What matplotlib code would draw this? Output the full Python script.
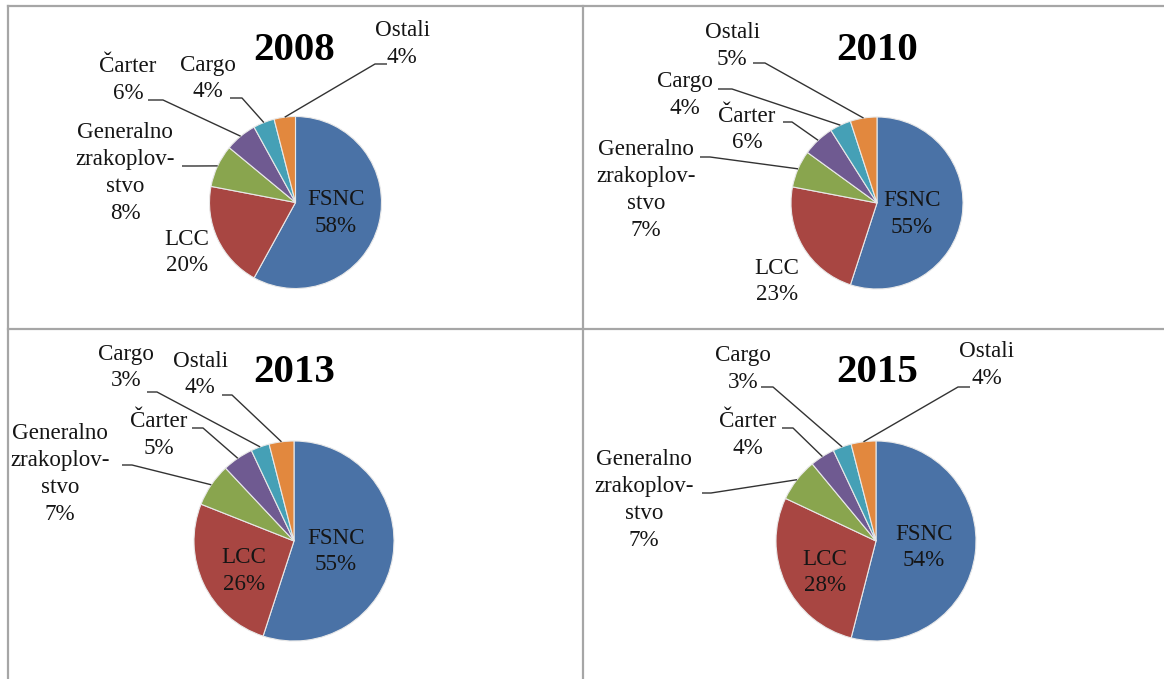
import matplotlib
matplotlib.use("Agg")
import matplotlib.pyplot as plt
import numpy as np

W, H = 1164, 679

# ---- data ----
categories = ["FSNC", "LCC", "Generalno\nzrakoplov-\nstvo", "Čarter", "Cargo", "Ostali"]
years = ["2008", "2010", "2013", "2015"]
shares_2008 = [58, 20, 8, 6, 4, 4]
shares_2010 = [55, 23, 7, 6, 4, 5]
shares_2013 = [55, 26, 7, 5, 3, 4]
shares_2015 = [54, 28, 7, 4, 3, 4]
shares = [shares_2008, shares_2010, shares_2013, shares_2015]

colors = ['#4A72A6', '#A84642', '#89A54E', '#6F5A91', '#45A0B6', '#E2883E']

# ---- layout (pixel coordinates, y measured from top) ----
layouts = [
    dict(center=(295.5, 202.5), r=86, title=(294, 50),
         labels=[(336, 213), (187, 252.5), (125, 173), (128, 80), (208, 78.5), (402, 44)],
         leaders=[None, None, ((182, 166), (195, 166)), ((148, 100), (163, 100)),
                  ((230, 98), (242, 98)), ((387, 64), (375, 64))]),
    dict(center=(877, 203), r=86, title=(877, 50),
         labels=[(912, 214), (777, 281.5), (646, 190), (747, 129.5), (685, 95), (732, 46)],
         leaders=[None, None, ((700, 157), (710, 157)), ((783, 122), (792, 122)),
                  ((718, 89), (732, 89)), ((753, 63), (765, 63))]),
    dict(center=(294, 541), r=100, title=(294, 372),
         labels=[(336, 551.5), (244, 571), (60, 474), (159, 435), (126, 367.5), (200, 374.5)],
         leaders=[None, None, ((122, 465), (132, 465)), ((192, 428), (203, 428)),
                  ((147, 392), (157, 392)), ((222, 395), (232, 395))]),
    dict(center=(876, 541), r=100, title=(877, 372),
         labels=[(924, 547.5), (825, 572.5), (644, 500), (748, 435), (743, 369), (987, 365)],
         leaders=[None, None, ((702, 493), (711, 493)), ((782, 428), (793, 428)),
                  ((761, 387), (773, 387)), ((970, 387), (958, 387))]),
]

FONT = ['Liberation Serif', 'DejaVu Serif']

fig = plt.figure(figsize=(W / 100, H / 100), dpi=100)
fig.patch.set_facecolor('white')
ax = fig.add_axes([0, 0, 1, 1])

def Y(y):
    return H - y

for year, vals, lay in zip(years, shares, layouts):
    cx, cy = lay['center']
    wedges, _ = ax.pie(vals, colors=colors, startangle=90, counterclock=False,
                       center=(cx, Y(cy)), radius=lay['r'],
                       wedgeprops=dict(edgecolor='#E8E8E8', linewidth=0.8))
    tx, ty = lay['title']
    ax.text(tx, Y(ty), year, ha='center', va='center', fontsize=29.5,
            fontweight='bold', family=FONT, color='black')
    for i, (cat, v, w) in enumerate(zip(categories, vals, wedges)):
        lx, ly = lay['labels'][i]
        ax.text(lx, Y(ly), f"{cat}\n{v}%", ha='center', va='center',
                fontsize=16.6, family=FONT, color='#151515', linespacing=1.36)
        ld = lay['leaders'][i]
        if ld is not None:
            ang = np.deg2rad((w.theta1 + w.theta2) / 2)
            px = w.center[0] + w.r * np.cos(ang)
            py = w.center[1] + w.r * np.sin(ang)
            (sx, sy), (ex, ey) = ld
            ax.plot([sx, ex, px], [Y(sy), Y(ey), py], color='#333333',
                    lw=1.0, solid_capstyle='butt', zorder=3)

# table-like borders
bc = '#A6A6A6'
blw = 1.6
ax.plot([8, W], [Y(6), Y(6)], color=bc, lw=blw)
ax.plot([8, W], [Y(329), Y(329)], color=bc, lw=blw)
ax.plot([8, 8], [Y(6), 0], color=bc, lw=blw)
ax.plot([583, 583], [Y(6), 0], color=bc, lw=blw)

ax.set_xlim(0, W)
ax.set_ylim(0, H)
ax.set_aspect('equal')
ax.axis('off')

fig.savefig('out.png', dpi=100)
